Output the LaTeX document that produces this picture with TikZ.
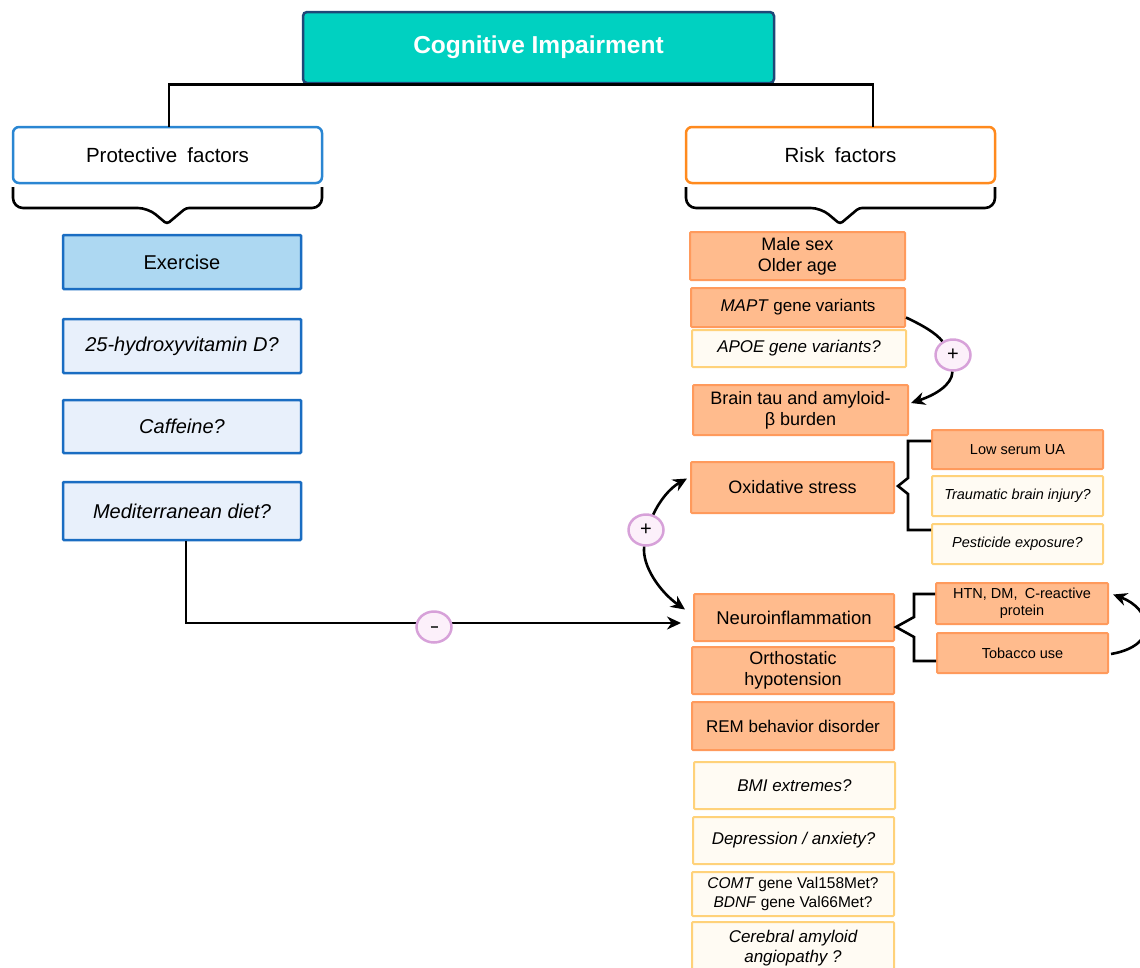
\documentclass[tikz,border=0pt]{standalone}
\usepackage{fontspec}
\setmainfont{Liberation Sans}
\usetikzlibrary{arrows.meta,shapes.geometric,calc}
\definecolor{tealF}{HTML}{00D1C1}
\definecolor{navyB}{HTML}{1F4777}
\definecolor{blueB}{HTML}{1A6DC2}
\definecolor{blueF}{HTML}{E8F0FB}
\definecolor{blueX}{HTML}{ADD8F2}
\definecolor{protB}{HTML}{2A86D2}
\definecolor{riskB}{HTML}{FF8A1E}
\definecolor{orangeF}{HTML}{FFBB8D}
\definecolor{orangeB}{HTML}{FF9A5C}
\definecolor{creamF}{HTML}{FFFBF3}
\definecolor{creamB}{HTML}{FFD27A}
\definecolor{pinkF}{HTML}{FCF0FA}
\definecolor{pinkB}{HTML}{D7A1D9}
\definecolor{dashG}{HTML}{444444}
\begin{document}
\begin{tikzpicture}[x=1pt,y=-1pt,
  every node/.style={inner sep=0pt, align=center},
  hdr/.style={draw, line width=2.5pt, fill=white, rounded corners=6pt, font=\fontsize{20.5}{24}\selectfont},
  bbox/.style={draw=blueB, fill=blueF, line width=2.5pt, rounded corners=1pt, font=\fontsize{20}{24}\selectfont},
  obox/.style={draw=orangeB, fill=orangeF, line width=2pt, rounded corners=1pt, font=\fontsize{18}{21}\selectfont},
  cbox/.style={draw=creamB, fill=creamF, line width=2pt, rounded corners=1pt, font=\fontsize{17}{20}\selectfont\itshape},
  small/.style={font=\fontsize{14.5}{18}\selectfont},
  sign/.style={ellipse, draw=pinkB, fill=pinkF, line width=2.5pt, minimum width=35pt, minimum height=31pt, font=\fontsize{20}{20}\selectfont},
  conn/.style={line width=2.6pt, black},
  arr/.style={conn, -{Stealth[length=14pt,width=13pt]}},
  brace/.style={line width=2.6pt, black, line join=miter}
]
\path[use as bounding box] (0,0) rectangle (1140,967);
\clip (0,0) rectangle (1140,967);

% headers
\node[hdr, draw=protB, minimum width=309, minimum height=56] (prot) at (167.5,155) {Protective\enspace factors};
\node[hdr, draw=riskB, minimum width=309, minimum height=56] (risk) at (840.5,155) {Risk\enspace factors};
\node[draw=navyB, fill=tealF, line width=2.5pt, rounded corners=4pt, minimum width=471, minimum height=71,
      text=white, font=\fontsize{24.5}{28}\selectfont\bfseries] (title) at (538.5,47.5) {Cognitive Impairment};
\coordinate (pl) at (169,127);
\coordinate (pr) at (873,127);
\draw[conn] (pl) -- (pl |- title.south) -- (pr |- title.south) -- (pr);

% braces under headers
\draw[brace, rounded corners=10pt] (13,187) |- (148,208) [rounded corners=3pt] -- (167,224) -- (186,208) [rounded corners=10pt] -| (322,187);
\draw[brace, rounded corners=10pt] (686,187) |- (821,208) [rounded corners=3pt] -- (840,224) -- (859,208) [rounded corners=10pt] -| (995,187);

% protective column
\node[bbox, fill=blueX, minimum width=238, minimum height=54] (ex) at (182,262) {Exercise};
\node[bbox, minimum width=238, minimum height=54] (vitd) at (182,346) {\itshape 25-hydroxyvitamin D?};
\node[bbox, minimum width=238, minimum height=53] (caf) at (182,426.5) {\itshape Caffeine?};
\node[bbox, minimum width=238, minimum height=58] (med) at (182,511) {\itshape Mediterranean diet?};

% risk column
\node[obox, minimum width=215, minimum height=48] (male) at (797.5,256) {Male sex\\Older age};
\node[obox, font=\fontsize{17}{20}\selectfont, minimum width=214, minimum height=39] (mapt) at (798,307.5) {\textit{MAPT} gene variants};
\node[cbox, minimum width=214, minimum height=37] (apoe) at (799,348.5) {APOE gene variants?};
\node[obox, minimum width=215, minimum height=50] (brain) at (800.5,410) {Brain tau and amyloid-\\β burden};
\node[obox, minimum width=203, minimum height=51] (oxid) at (792.5,487.5) {Oxidative stress};
\node[obox, small, minimum width=171, minimum height=39] (ua) at (1017.5,449.5) {Low serum UA};
\node[cbox, font=\fontsize{14.5}{18}\selectfont\itshape, minimum width=171, minimum height=40] (tbi) at (1017.5,496) {Traumatic brain injury?};
\node[cbox, font=\fontsize{14.5}{18}\selectfont\itshape, minimum width=171, minimum height=40] (pest) at (1017.5,544) {Pesticide exposure?};
\node[obox, font=\fontsize{18.5}{22}\selectfont, minimum width=200, minimum height=47] (neuro) at (794,617.5) {Neuroinflammation};
\node[obox, font=\fontsize{14.5}{17}\selectfont, minimum width=172, minimum height=41] (htn) at (1022,603.5) {HTN, DM,\enspace C-reactive\\protein};
\node[obox, small, minimum width=171, minimum height=40] (tob) at (1022.5,653) {Tobacco use};
\node[obox, minimum width=202, minimum height=47] (ortho) at (793,670.5) {Orthostatic\\hypotension};
\node[obox, font=\fontsize{17}{20}\selectfont, minimum width=202, minimum height=48] (rem) at (793,726) {REM behavior disorder};
\node[cbox, minimum width=201, minimum height=47] (bmi) at (794.5,785.5) {BMI extremes?};
\node[cbox, minimum width=201, minimum height=47] (dep) at (793.5,840.5) {Depression / anxiety?};
\node[cbox, font=\fontsize{15.5}{18.5}\selectfont, minimum width=202, minimum height=44] (comt) at (793,894) {\textit{COMT} gene Val158Met?\\\textit{BDNF} gene Val66Met?};
\node[cbox, minimum width=202, minimum height=53] (cer) at (793,948.5) {Cerebral amyloid\\angiopathy ?};

% braces on the right
\draw[brace] ($(ua.west)+(0,-8.5)$) -| (908,478) -- (898,486) -- (908,494) |- ($(pest.west)+(0,-14)$);
\draw[brace] ($(htn.west)+(0,-9.5)$) -| (914,617) -- (896,627) -- (914,637) |- ($(tob.west)+(0,8)$);

% Mediterranean diet -> neuroinflammation
\draw[arr] ($(med.south)+(4,0)$) |- ($(neuro.west)+(-12,5.5)$);
\node[sign] (minus) at (434,627) {\textcolor{dashG}{\rule{7pt}{2.4pt}}};

% MAPT -> + -> brain
\node[sign] (plusA) at (953,355) {+};
\draw[conn] ($(mapt.east)+(0,10)$) .. controls (922,325) and (936,333) .. (plusA);
\draw[arr] (plusA) .. controls (952,385) and (935,395) .. ($(brain.east)+(2,-7)$);

% + between oxidative stress and neuroinflammation
\node[sign] (plusB) at (646,530) {+};
\draw[arr] (plusB) .. controls (660,500) and (670,488) .. ($(oxid.west)+(-3,-9)$);
\draw[arr] (plusB) .. controls (642,566) and (660,592) .. ($(neuro.west)+(-8,-8)$);

% tobacco -> HTN loop
\draw[arr] ($(tob.east)+(2,1)$) .. controls (1162,645) and (1150,608) .. ($(htn.east)+(4,-9)$);
\end{tikzpicture}
\end{document}
